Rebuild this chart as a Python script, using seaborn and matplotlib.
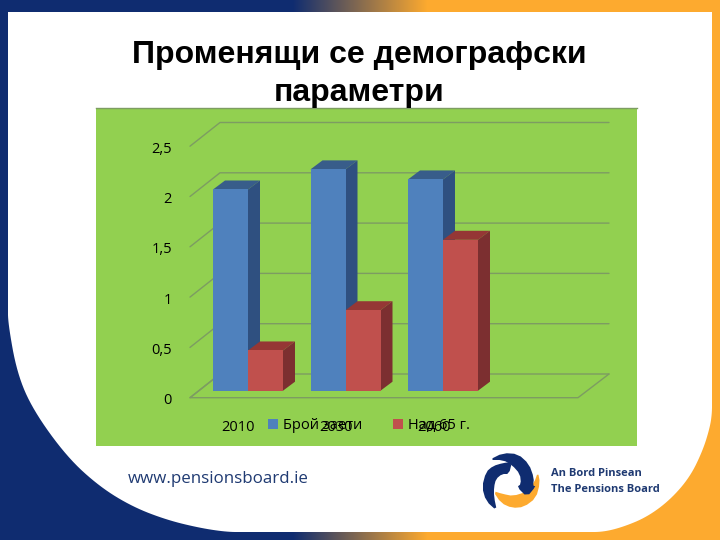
import numpy as np
import pandas as pd
import matplotlib
matplotlib.use('Agg')
import matplotlib.pyplot as plt
from matplotlib.patches import Polygon
from matplotlib.transforms import ScaledTranslation
import seaborn as sns

# chart values
years = ['2010', '2030', '2060']
workers = [2.0, 2.2, 2.1]
over_65 = [0.4, 0.8, 1.5]
series_names = ['Брой заети', 'Над 65 г.']
y_ticks = [0, 0.5, 1, 1.5, 2, 2.5]
y_tick_labels = ['0', '0,5', '1', '1,5', '2', '2,5']

title_lines = ['Променящи се демографски', 'параметри']
site_text = 'www.pensionsboard.ie'
board_lines = ['An Bord Pinsean', 'The Pensions Board']

NAVY = '#0f2c70'
ORANGE = '#fdaa2f'
GREEN = '#92d050'
GRID = '#7d9c62'
FRONT = {'#4f81bd': ('#385d8a', '#2f5080'), '#c0504d': ('#953735', '#7c2f30')}
PX_X = 97.5     # pixels per category
PX_Y = 100.6    # pixels per unit of value
ZERO_X = 248
ZERO_Y = 390.7

sns.set_theme(style='white')
plt.rcParams['font.family'] = ['Open Sans', 'DejaVu Sans']
plt.rcParams['text.color'] = 'black'

fig = plt.figure(figsize=(7.2, 5.4), dpi=100)

# slide background, in pixel coordinates
bg = fig.add_axes([0, 0, 1, 1], zorder=0)
bg.set_xlim(0, 720)
bg.set_ylim(540, 0)
bg.axis('off')

c0 = np.array(matplotlib.colors.to_rgb(NAVY))
c1 = np.array(matplotlib.colors.to_rgb(ORANGE))
ramp = np.clip((np.arange(720) - 292) / 135, 0, 1)[None, :, None]
bg.imshow(c0 + (c1 - c0) * ramp, extent=(0, 720, 540, 0), aspect='auto', zorder=0)


# corner cutting, rounds off an outline given by hand
def smooth(points, closed=True, rounds=3):
    pts = np.array(points, dtype=float)
    for _ in range(rounds):
        nxt = np.roll(pts, -1, axis=0) if closed else pts[1:]
        cur = pts if closed else pts[:-1]
        cut = np.empty((len(cur) * 2, 2))
        cut[0::2] = 0.75 * cur + 0.25 * nxt
        cut[1::2] = 0.25 * cur + 0.75 * nxt
        pts = cut
    return pts


curve_right = [(712, 400), (712, 413), (710, 427), (703, 450), (690, 477), (670, 500),
               (647, 517), (623, 527), (603, 532), (585, 532)]
curve_left = [(245, 532), (227, 532), (200, 528), (167, 520), (133, 507), (100, 487),
              (67, 457), (33, 410), (17, 373), (8, 323), (8, 305)]
white_outline = np.r_[[(8, 12), (712, 12)], smooth(curve_right, closed=False), smooth(curve_left, closed=False)]
bg.add_patch(Polygon(white_outline, closed=True, fc='white', ec='none', zorder=1))

# logo
logo_right = [(489, 460), (503, 453), (518, 454), (529, 464), (534, 478), (533, 486), (536, 486), (527, 497),
              (517, 487), (521, 484), (520, 474), (512, 465), (503, 460)]
logo_left = [(486, 472), (493, 466), (503, 463), (512, 462), (509, 474), (502, 474), (496, 479),
             (494, 487), (494, 497), (497, 511), (486, 501), (482, 487)]
logo_orange = [(493, 491), (503, 494), (513, 496), (526, 492), (534, 483), (538, 472), (540, 483),
               (536, 498), (524, 507), (512, 508), (501, 503)]
for outline, color in [(logo_orange, ORANGE), (logo_left, NAVY), (logo_right, NAVY)]:
    bg.add_patch(Polygon(smooth(outline, rounds=1), closed=True, fc=color, ec='none', zorder=2))

# chart area, placed so that the bars land on their pixels
left, right, top, bottom = 96, 637, 108, 445.7
ax = fig.add_axes([left / 720, 1 - bottom / 540, (right - left) / 720, (bottom - top) / 540], zorder=1)
ax.set_facecolor(GREEN)

df = pd.DataFrame({
    'year': years * 2,
    'value': workers + over_65,
    'series': [series_names[0]] * 3 + [series_names[1]] * 3,
})
sns.barplot(data=df, x='year', y='value', hue='series', palette=list(FRONT), width=70 / PX_X,
            gap=0, saturation=1, edgecolor='none', linewidth=0, ax=ax, zorder=4)

ax.set_xlim((left - ZERO_X) / PX_X, (right - ZERO_X) / PX_X)
ax.set_ylim((ZERO_Y - bottom) / PX_Y, (ZERO_Y - top) / PX_Y)
ax.set_xlabel('')
ax.set_ylabel('')
for name in ['left', 'right', 'bottom']:
    ax.spines[name].set_visible(False)
ax.spines['top'].set_color(GRID)
ax.spines['top'].set_linewidth(1)

# depth of the fake 3d box
dx = 12 / PX_X
dy = 9 / PX_Y
for z, (container, colors) in enumerate(zip(ax.containers, FRONT.values())):
    for bar in container:
        x, w, h = bar.get_x(), bar.get_width(), bar.get_height()
        ax.add_patch(Polygon([(x, h), (x + w, h), (x + w + dx, h + dy), (x + dx, h + dy)],
                             closed=True, fc=colors[0], ec='none', zorder=2 + z))
        ax.add_patch(Polygon([(x + w, 0), (x + w + dx, dy), (x + w + dx, h + dy), (x + w, h)],
                             closed=True, fc=colors[1], ec='none', zorder=2 + z))

# walls and floor
fl, bl = (190 - ZERO_X) / PX_X, (220 - ZERO_X) / PX_X
fr, br = (578 - ZERO_X) / PX_X, (609 - ZERO_X) / PX_X
front_y, back_y = (ZERO_Y - 397.7) / PX_Y, (ZERO_Y - 374) / PX_Y
for v in y_ticks:
    ax.plot([fl, bl, br], [v + front_y, v + back_y, v + back_y], color=GRID, lw=1, zorder=1)
ax.plot([bl, fl, fr, br], [back_y, front_y, front_y, back_y], color=GRID, lw=1, zorder=1)

# tick labels sit inside the green panel, shifted down to the front edge
ax.set_yticks(y_ticks)
ax.set_yticklabels(y_tick_labels)
ax.tick_params(axis='y', length=0, pad=-(172 - left) * 0.72, labelsize=10.5, labelcolor='black')
ax.tick_params(axis='x', length=0, pad=-(bottom - 420) * 0.72, labelsize=10.5, labelcolor='black')
for label in ax.get_yticklabels():
    label.set_transform(label.get_transform() + ScaledTranslation(0, -8 / 100, fig.dpi_scale_trans))
for label in ax.get_xticklabels():
    label.set_transform(label.get_transform() + ScaledTranslation(-9.5 / 100, 0, fig.dpi_scale_trans))

sns.move_legend(ax, loc='center left', bbox_to_anchor=(268 / 720, 1 - 425.5 / 540),
                bbox_transform=fig.transFigure, ncol=2, frameon=False, title=None, fontsize=10.5,
                handlelength=0.68, handleheight=0.68, handletextpad=0.35, columnspacing=2.1,
                borderpad=0, borderaxespad=0)

# title and footer
for line, y in zip(title_lines, [55, 93]):
    fig.text(359 / 720, 1 - y / 540, line, ha='center', va='center', fontsize=23,
             fontweight='bold', family='Liberation Sans', color='black')
fig.text(128 / 720, 1 - 479 / 540, site_text, ha='left', va='center', fontsize=12.2, color='#1f3a72')
for line, y in zip(board_lines, [474, 490]):
    fig.text(551 / 720, 1 - y / 540, line, ha='left', va='center', fontsize=8,
             fontweight='bold', color='#1f3a72', family='Open Sans', stretch='condensed')

fig.savefig('out.png', dpi=100)
